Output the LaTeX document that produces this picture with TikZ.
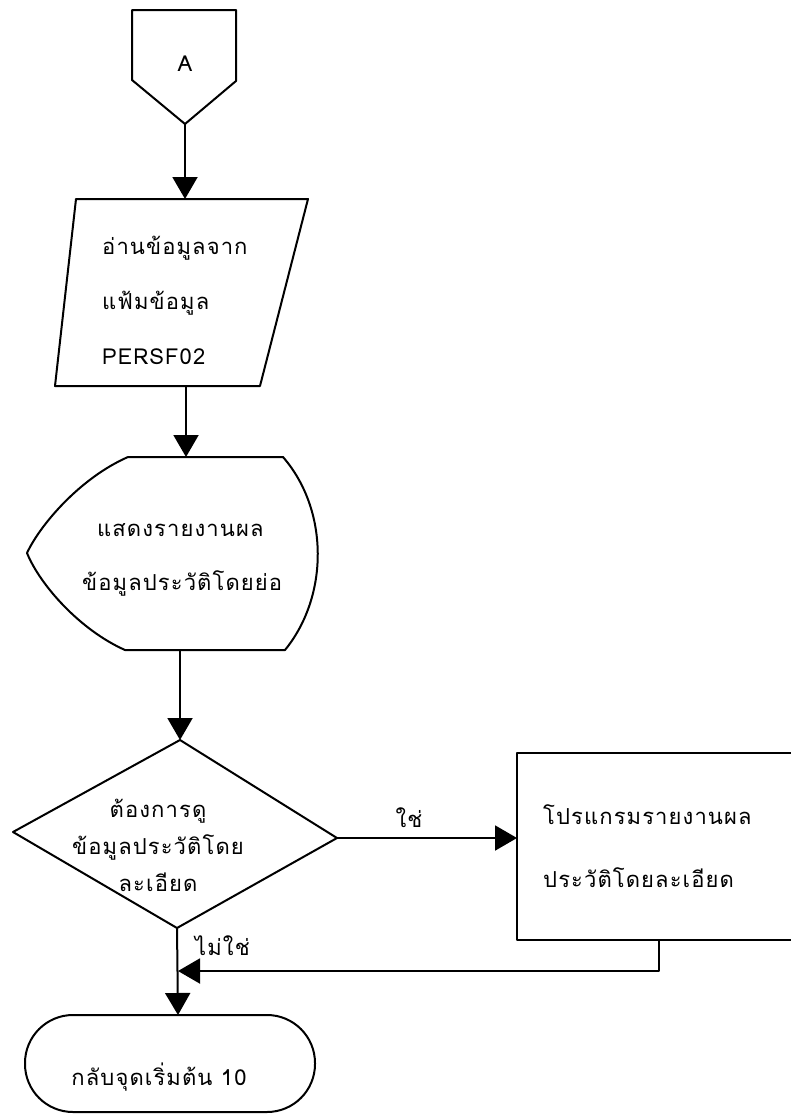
\documentclass[tikz,border=0pt]{standalone}
\usepackage{fontspec}
\newfontfamily\thaifont[Script=Thai,LetterSpace=5]{Loma}
\usetikzlibrary{arrows.meta}

\tikzset{
  flow/.style={line width=2pt, line join=round, line cap=round},
  arr/.style={flow, -{Triangle[length=22pt,width=25pt]}},
  txt/.style={font=\thaifont\fontsize{22}{55}\selectfont, inner sep=0pt, align=left}
}

\begin{document}
\begin{tikzpicture}[x=1pt, y=-1pt]
\useasboundingbox (0,0) rectangle (791,1114);

% off-page connector
\draw[flow] (132,10) -- (236,10) -- (236,81) -- (185,124) -- (132,80) -- cycle;
\node[txt] (labA) at (185,64) {A};
\coordinate (Abot) at (185,124);

% read data
\draw[flow] (76,199) -- (308,199) -- (260,386) -- (55,386) -- cycle;
\node[txt, anchor=west] (read) at (102,300) {อ่านข้อมูลจาก\\แฟ้มข้อมูล\\PERSF02};
\coordinate (readtop) at (185,199);
\coordinate (readbot) at (186,386);

% display
\draw[flow] (128,457) -- (283,457)
  .. controls (329,510) and (329,596) .. (285,650) -- (125,650)
  .. controls (80,630) and (40,585) .. (27,553)
  .. controls (40,525) and (80,478) .. (128,457);
\node[txt, anchor=west] (show1) at (97,530) {แสดงรายงานผล};
\node[txt, anchor=west] (show2) at (82,583) {ข้อมูลประวัติโดยย่อ};
\coordinate (disptop) at (186,457);
\coordinate (dispbot) at (180,650);

% decision
\draw[flow] (180,740) -- (337,838) -- (177,928) -- (13,832) -- cycle;
\node[txt, align=center, font=\thaifont\fontsize{22}{37}\selectfont] (ask) at (158,845) {ต้องการดู\\ข้อมูลประวัติโดย\\ละเอียด};
\coordinate (dectop) at (180,740);
\coordinate (decright) at (337,838);
\coordinate (decbot) at (177,928);

% detail program
\draw[flow] (517,753) rectangle (810,940);
\node[txt, anchor=west, font=\thaifont\fontsize{22}{63}\selectfont] (prog) at (543,846) {โปรแกรมรายงานผล\\ประวัติโดยละเอียด};
\coordinate (procleft) at (517,838);
\coordinate (procbot) at (659,940);
\coordinate (turn) at (659,971);
\coordinate (merge) at (178,971);

% end
\draw[flow, rounded corners=48pt] (25,1015) rectangle (315,1112);
\node[txt] (back) at (159,1077) {กลับจุดเริ่มต้น 10};
\coordinate (endtop) at (178,1015);

% connectors
\draw[arr] (Abot) -- (readtop);
\draw[arr] (readbot) -- (disptop);
\draw[arr] (dispbot) -- (dectop);
\draw[arr] (decright) -- node[txt, pos=0.4, above=9pt] (yes) {ใช่} (procleft);
\draw[arr] (decbot) -- (endtop);
\draw[arr] (procbot) -- (turn) -- (merge);
\node[txt, anchor=west] (no) at (195,946) {ไม่ใช่};

\end{tikzpicture}
\end{document}
